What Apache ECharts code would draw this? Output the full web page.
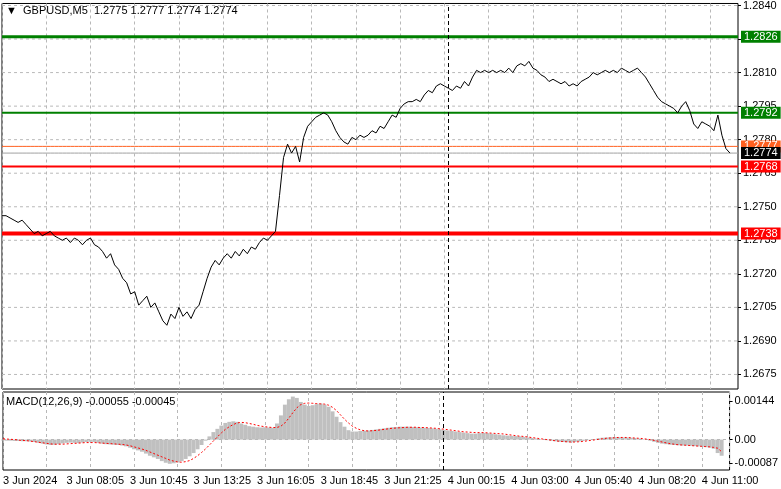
<!DOCTYPE html>
<html><head><meta charset="utf-8">
<script src="https://cdn.jsdelivr.net/npm/echarts@6/dist/echarts.min.js"></script>
<style>html,body{margin:0;padding:0;background:#fff}#c{width:781px;height:489px}</style>
</head><body><div id="c"></div>
<script>
const timeLabels = ['3 Jun 2024','3 Jun 08:05','3 Jun 10:45','3 Jun 13:25','3 Jun 16:05','3 Jun 18:45','3 Jun 21:25','4 Jun 00:15','4 Jun 03:00','4 Jun 05:40','4 Jun 08:20','4 Jun 11:00'];
const priceTicks = [1.2840,1.2825,1.2810,1.2795,1.2780,1.2765,1.2750,1.2735,1.2720,1.2705,1.2690,1.2675];
const macdTicks = [0.00144,0,-0.00087];
const close = [
1.2746,1.2746,1.2745,1.2744,1.2743,1.2744,1.2742,1.2740,
1.2738,1.2739,1.2737,1.2738,1.2739,1.2737,1.2736,1.2735,
1.2736,1.2734,1.2736,1.2735,1.2733,1.2735,1.2736,1.2733,
1.2732,1.2730,1.2727,1.2729,1.2724,1.2722,1.2718,1.2716,
1.2711,1.2712,1.2706,1.2708,1.2710,1.2705,1.2707,1.2703,
1.2699,1.2697,1.2702,1.2700,1.2705,1.2701,1.2703,1.2700,
1.2704,1.2706,1.2712,1.2718,1.2723,1.2726,1.2724,1.2727,
1.2729,1.2727,1.2730,1.2728,1.2731,1.2729,1.2732,1.2731,
1.2734,1.2736,1.2735,1.2737,1.2739,
1.2755,1.2772,1.2778,1.2774,1.2777,1.2770,1.2781,1.2786,1.2788,1.2790,1.2791,1.2792,1.2791,
1.2788,1.2784,1.2781,1.2779,1.2778,1.2781,1.2780,1.2782,1.2781,1.2782,
1.2784,1.2783,1.2786,1.2785,1.2788,1.2791,1.2790,1.2794,1.2796,1.2797,
1.2797,1.2798,1.2797,1.2800,1.2802,1.2801,1.2804,1.2805,1.2804,1.2803,
1.2802,1.2804,1.2803,1.2806,1.2804,1.2808,1.2811,1.2810,1.2811,1.2810,
1.2811,1.2810,1.2811,1.2810,1.2812,1.2810,1.2813,1.2814,1.2813,1.2815,
1.2812,1.2811,1.2809,1.2808,1.2806,1.2807,1.2806,1.2805,1.2806,1.2804,
1.2805,1.2804,1.2806,1.2807,1.2808,1.2810,1.2809,1.2810,1.2811,1.2810,
1.2811,1.2810,1.2812,1.2811,1.2810,1.2811,1.2812,1.2810,1.2808,1.2805,
1.2802,1.2799,1.2797,1.2796,1.2795,1.2794,1.2792,1.2795,1.2797,1.2793,
1.2787,1.2785,1.2788,1.2787,1.2786,1.2784,1.2791,1.2782,1.2776,1.2774];
const macdHist = [
-3e-5,-4e-5,-4e-5,-5e-5,-5e-5,-6e-5,-6e-5,-7e-5,
-9e-5,-12e-5,-15e-5,-18e-5,-20e-5,-19e-5,-17e-5,-14e-5,
-12e-5,-11e-5,-12e-5,-13e-5,-11e-5,-9e-5,-8e-5,-9e-5,
-12e-5,-15e-5,-17e-5,-18e-5,-19e-5,-20e-5,-22e-5,-25e-5,
-30e-5,-36e-5,-40e-5,-45e-5,-52e-5,-60e-5,-66e-5,-72e-5,
-80e-5,-86e-5,-90e-5,-88e-5,-85e-5,-80e-5,-72e-5,-62e-5,
-50e-5,-36e-5,-20e-5,-4e-5,12e-5,28e-5,40e-5,52e-5,
62e-5,66e-5,68e-5,66e-5,60e-5,55e-5,50e-5,48e-5,
46e-5,45e-5,46e-5,45e-5,44e-5,
60e-5,90e-5,130e-5,150e-5,160e-5,155e-5,140e-5,130e-5,125e-5,128e-5,132e-5,134e-5,130e-5,
122e-5,105e-5,85e-5,65e-5,48e-5,35e-5,30e-5,30e-5,32e-5,33e-5,
34e-5,36e-5,38e-5,40e-5,42e-5,44e-5,46e-5,47e-5,48e-5,48e-5,
48e-5,47e-5,46e-5,45e-5,44e-5,43e-5,42e-5,40e-5,38e-5,36e-5,
34e-5,32e-5,30e-5,28e-5,26e-5,24e-5,22e-5,22e-5,24e-5,25e-5,
24e-5,22e-5,20e-5,18e-5,16e-5,15e-5,14e-5,13e-5,12e-5,10e-5,
8e-5,6e-5,4e-5,2e-5,0,-2e-5,-4e-5,-6e-5,-8e-5,-9e-5,
-10e-5,-10e-5,-9e-5,-7e-5,-5e-5,-3e-5,-1e-5,2e-5,5e-5,7e-5,
8e-5,9e-5,9e-5,9e-5,8e-5,8e-5,7e-5,6e-5,4e-5,2e-5,
-1e-5,-4e-5,-8e-5,-12e-5,-15e-5,-17e-5,-19e-5,-20e-5,-21e-5,-22e-5,
-22e-5,-23e-5,-24e-5,-25e-5,-26e-5,-28e-5,-30e-5,-34e-5,-50e-5,-60e-5];
const macdSignal = [
3e-5,2e-5,1e-5,0,-2e-5,-3e-5,-4e-5,-6e-5,
-8e-5,-10e-5,-12e-5,-14e-5,-16e-5,-17e-5,-17e-5,-17e-5,
-16e-5,-15e-5,-14e-5,-13e-5,-12e-5,-11e-5,-11e-5,-11e-5,
-12e-5,-13e-5,-14e-5,-15e-5,-16e-5,-17e-5,-18e-5,-20e-5,
-23e-5,-27e-5,-31e-5,-35e-5,-40e-5,-46e-5,-52e-5,-58e-5,
-64e-5,-70e-5,-76e-5,-80e-5,-83e-5,-84e-5,-82e-5,-78e-5,
-70e-5,-60e-5,-48e-5,-35e-5,-20e-5,-5e-5,10e-5,25e-5,
38e-5,48e-5,56e-5,62e-5,64e-5,63e-5,60e-5,57e-5,
53e-5,50e-5,48e-5,46e-5,45e-5,
45e-5,50e-5,62e-5,80e-5,100e-5,118e-5,130e-5,135e-5,136e-5,135e-5,134e-5,133e-5,132e-5,
128e-5,120e-5,108e-5,92e-5,76e-5,62e-5,50e-5,42e-5,36e-5,33e-5,
32e-5,33e-5,34e-5,36e-5,38e-5,40e-5,42e-5,43e-5,44e-5,45e-5,
46e-5,46e-5,46e-5,45e-5,45e-5,44e-5,43e-5,42e-5,40e-5,39e-5,
37e-5,35e-5,33e-5,31e-5,29e-5,28e-5,27e-5,26e-5,26e-5,26e-5,
25e-5,24e-5,23e-5,22e-5,21e-5,19e-5,17e-5,15e-5,13e-5,12e-5,
10e-5,8e-5,6e-5,4e-5,2e-5,0,-2e-5,-4e-5,-6e-5,-7e-5,
-8e-5,-9e-5,-9e-5,-8e-5,-7e-5,-5e-5,-3e-5,-1e-5,1e-5,3e-5,
5e-5,6e-5,7e-5,8e-5,8e-5,8e-5,7e-5,6e-5,5e-5,4e-5,
2e-5,0,-3e-5,-6e-5,-9e-5,-12e-5,-15e-5,-17e-5,-19e-5,-20e-5,
-21e-5,-22e-5,-23e-5,-24e-5,-25e-5,-26e-5,-27e-5,-29e-5,-32e-5,-45e-5];
const levels = [
  {v:1.2777, color:'#ff6020', bg:'#ff6020', w:1},
  {v:1.2774, color:'#a0a0a0', bg:'#000000', w:1},
  {v:1.2826, color:'#008000', bg:'#008000', w:3},
  {v:1.2792, color:'#008000', bg:'#008000', w:2},
  {v:1.2768, color:'#ff0000', bg:'#ff0000', w:2},
  {v:1.2738, color:'#ff0000', bg:'#ff0000', w:4}];
const headerText = '▼  GBPUSD,M5  1.2775 1.2777 1.2774 1.2774';
const macdText = 'MACD(12,26,9) -0.00055 -0.00045';
const separatorIndex = 111;

const N = 184;
const cats = [];
for (let i = 0; i < N; i++) cats.push(i % 16 === 0 && timeLabels[i/16] ? timeLabels[i/16] : '');
const font = 'Liberation Sans, Arial, sans-serif';
const gridLineStyle = {color:'#b8b8b8', type:[3,3], width:1};
const flat = v => new Array(N).fill(v);
const gridSeries = priceTicks.map(v => ({type:'line', xAxisIndex:0, yAxisIndex:0, data:flat(v), symbol:'none', silent:true,
  lineStyle:gridLineStyle, z:1}));
const levelSeries = levels.map(l => ({type:'line', xAxisIndex:0, yAxisIndex:0, data:flat(l.v), symbol:'none', silent:true,
  lineStyle:{color:l.color, width:l.w}, z:3,
  endLabel:{show:true, formatter:l.v.toFixed(4), backgroundColor:l.bg, color:'#fff', fontFamily:font, fontSize:11,
    padding:[1,3,0,3], distance:3}}));
const chart = echarts.init(document.getElementById('c'));
chart.setOption({
  animation:false,
  grid:[{left:2, right:43, top:2, height:387, show:true, borderColor:'#000', borderWidth:1},
        {left:2, right:43, top:392, height:78, show:true, borderColor:'#000', borderWidth:1}],
  xAxis:[
    {type:'category', gridIndex:0, data:cats, boundaryGap:false, axisLine:{show:false}, axisTick:{show:false}, axisLabel:{show:false},
     splitLine:{show:true, interval:10, lineStyle:gridLineStyle}},
    {type:'category', gridIndex:1, data:cats, boundaryGap:false, axisLine:{show:false}, axisTick:{show:false},
     axisLabel:{show:true, interval:0, align:'left', margin:5, color:'#000', fontFamily:font, fontSize:11},
     splitLine:{show:true, interval:10, lineStyle:gridLineStyle}}],
  yAxis:[
    {type:'value', gridIndex:0, position:'right', min:1.26685, max:1.28409, splitLine:{show:false},
     axisLine:{show:false}, axisTick:{show:true, customValues:priceTicks, length:3, lineStyle:{color:'#000'}},
     axisLabel:{customValues:priceTicks, formatter:v=>v.toFixed(4), color:'#000', fontFamily:font, fontSize:11, margin:5}},
    {type:'value', gridIndex:1, position:'right', min:-0.00113, max:0.00177, splitLine:{show:false},
     axisLine:{show:false}, axisTick:{show:true, customValues:macdTicks, length:3, lineStyle:{color:'#000'}},
     axisLabel:{customValues:macdTicks, formatter:v=>v===0?'0.00':String(v), color:'#000', fontFamily:font, fontSize:11, margin:5}}],
  series:[
    ...gridSeries,
    ...levelSeries,
    {type:'line', xAxisIndex:0, yAxisIndex:0, data:close, symbol:'none', lineStyle:{color:'#000', width:1}, z:5,
     markLine:{symbol:'none', silent:true, data:[{xAxis:separatorIndex, lineStyle:{color:'#000', width:1, type:[4,3]}, label:{show:false}}]}},
    {type:'bar', xAxisIndex:1, yAxisIndex:1, data:macdHist, barCategoryGap:'0%', itemStyle:{color:'#c0c0c0'},
     markLine:{symbol:'none', silent:true, data:[{yAxis:0, lineStyle:gridLineStyle, label:{show:false}},
       {xAxis:separatorIndex, lineStyle:{color:'#000', width:1, type:[4,3]}, label:{show:false}}]}},
    {type:'line', xAxisIndex:1, yAxisIndex:1, data:macdSignal, symbol:'none', lineStyle:{color:'#ff0000', width:1, type:[2,2]}, z:5}],
  graphic:[
    {type:'text', left:6, top:5, style:{text:headerText, fontFamily:font, fontSize:11, fill:'#000'}},
    {type:'text', left:6, top:396, style:{text:macdText, fontFamily:font, fontSize:11, fill:'#000'}}]
});
</script></body></html>
